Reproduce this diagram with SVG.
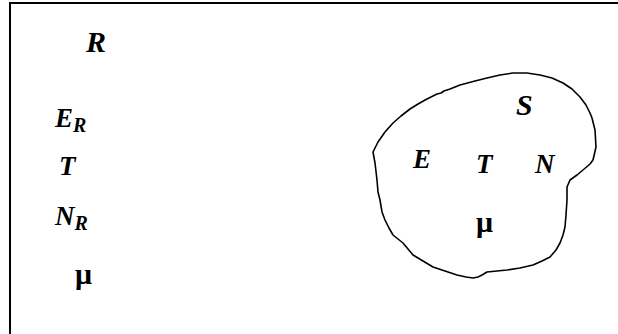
<svg xmlns="http://www.w3.org/2000/svg" width="618" height="334" viewBox="0 0 618 334">
<style>
.v{font-family:"Liberation Serif","DejaVu Serif",serif;font-style:italic;font-weight:bold;fill:#000}
.m{font-family:"Liberation Serif","DejaVu Serif",serif;font-weight:bold;fill:#000}
.frame{stroke:#000;stroke-width:2;fill:none}
.blob{stroke:#000;stroke-width:1.6;fill:none;stroke-linejoin:round}
</style>
<rect width="618" height="334" fill="#fff"/>
<g id="frame"><path class="frame" d="M10,334 V3 H618"/></g>
<g id="reservoir">
<text class="v" x="86" y="52" font-size="30">R</text>
<text class="v" x="55" y="127" font-size="27">E<tspan font-size="20" dy="5">R</tspan></text>
<text class="v" x="59" y="175" font-size="27">T</text>
<text class="v" x="55" y="225" font-size="27">N<tspan font-size="20" dy="5">R</tspan></text>
<text class="m" x="75" y="284" font-size="30">μ</text>
</g>
<g id="system">
<path class="blob" d="M373,152 L375,163 L377,180 L378,192 L380,200 L382,212 L385,220 L389,228 L393,235 L403,243 L413,255 L423,261 L433,267 L445,271 L457,275 L466,277 L473,278 L478,277 L482,275 L487,272 L497,271 L507,270 L520,268 L533,265 L542,261 L550,257 L556,250 L560,243 L563,235 L565,227 L566,215 L567,200 L567,187 L570,180 L577,175 L583,170 L590,164 L593,160 L596,147 L595,130 L592,118 L590,113 L586,105 L580,97 L572,89 L563,83 L552,78 L540,75 L527,73 L513,73 L500,75 L487,78 L475,81 L460,85 L450,89 L444,91 L441,93 L437,94 L427,99 L418,104 L410,109 L401,116 L393,123 L385,132 L378,142 Z"/>
<text class="v" x="516" y="115" font-size="30">S</text>
<text class="v" x="413" y="168" font-size="27">E</text>
<text class="v" x="476" y="173" font-size="27">T</text>
<text class="v" x="535" y="173" font-size="27">N</text>
<text class="m" x="476" y="232" font-size="30">μ</text>
</g>
</svg>
